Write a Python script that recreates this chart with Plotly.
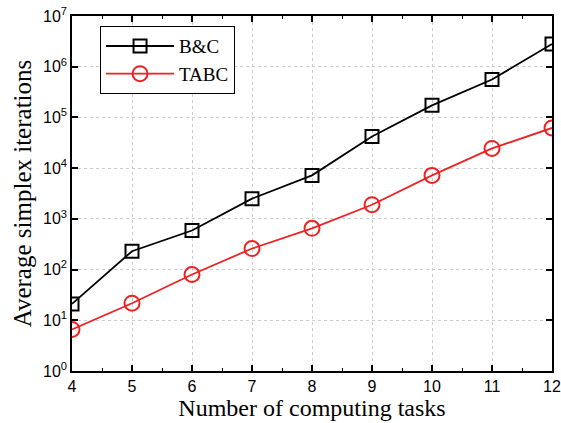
import plotly.graph_objects as go

tasks = [4, 5, 6, 7, 8, 9, 10, 11, 12]
bc_iters = [21, 230, 590, 2500, 7200, 42000, 173000, 560000, 2800000]
tabc_iters = [6.6, 21.7, 80, 260, 650, 1900, 7200, 24500, 62000]
y_tickvals = [1, 10, 100, 1000, 1e4, 1e5, 1e6, 1e7]
y_ticktext = ["10<sup>0</sup>", "10<sup>1</sup>", "10<sup>2</sup>", "10<sup>3</sup>",
              "10<sup>4</sup>", "10<sup>5</sup>", "10<sup>6</sup>", "10<sup>7</sup>"]

fig = go.Figure()
fig.add_trace(go.Scatter(
    x=tasks, y=bc_iters, name="B&C", mode="lines+markers",
    line=dict(color="black", width=1.8),
    marker=dict(symbol="square-open", size=13, color="black", line=dict(width=2, color="black")),
))
fig.add_trace(go.Scatter(
    x=tasks, y=tabc_iters, name="TABC", mode="lines+markers",
    line=dict(color="#ee2222", width=1.8),
    marker=dict(symbol="circle-open", size=15, color="#ee2222", line=dict(width=2, color="#ee2222")),
))

axis_common = dict(
    showline=True, linecolor="black", linewidth=1.5, mirror="allticks",
    ticks="inside", ticklen=6, tickwidth=1.5, tickcolor="black",
    showgrid=True, gridcolor="#cccccc", griddash="3px,3px", gridwidth=1,
    zeroline=False, automargin=False,
    tickfont=dict(family="Liberation Sans, Arial", size=16, color="black"),
)

fig.update_xaxes(
    range=[4, 12], dtick=1, tick0=4,
    minor=dict(dtick=0.5, ticks="inside", ticklen=3, tickcolor="black", tickwidth=1.2, showgrid=False),
    title=dict(text="Number of computing tasks", font=dict(family="Liberation Serif, Times New Roman", size=24, color="black"), standoff=4),
    **axis_common,
)
fig.update_yaxes(
    type="log", range=[0, 7], tickvals=y_tickvals, ticktext=y_ticktext,
    title=dict(text="Average simplex iterations", font=dict(family="Liberation Serif, Times New Roman", size=25, color="black"), standoff=4),
    **axis_common,
)

fig.update_layout(
    width=561, height=423,
    margin=dict(l=72, r=9, t=16, b=52),
    plot_bgcolor="white", paper_bgcolor="white",
    legend=dict(
        x=0.058, y=0.972, xanchor="left", yanchor="top",
        bordercolor="black", borderwidth=1.2, bgcolor="white",
        font=dict(family="Liberation Serif, Times New Roman", size=19, color="black"),
        itemwidth=68, tracegroupgap=0,
    ),
    showlegend=True,
)

fig.write_html("out.html", config={"displayModeBar": False},
               post_script="document.body.style.margin='0';document.body.style.overflow='hidden';")
